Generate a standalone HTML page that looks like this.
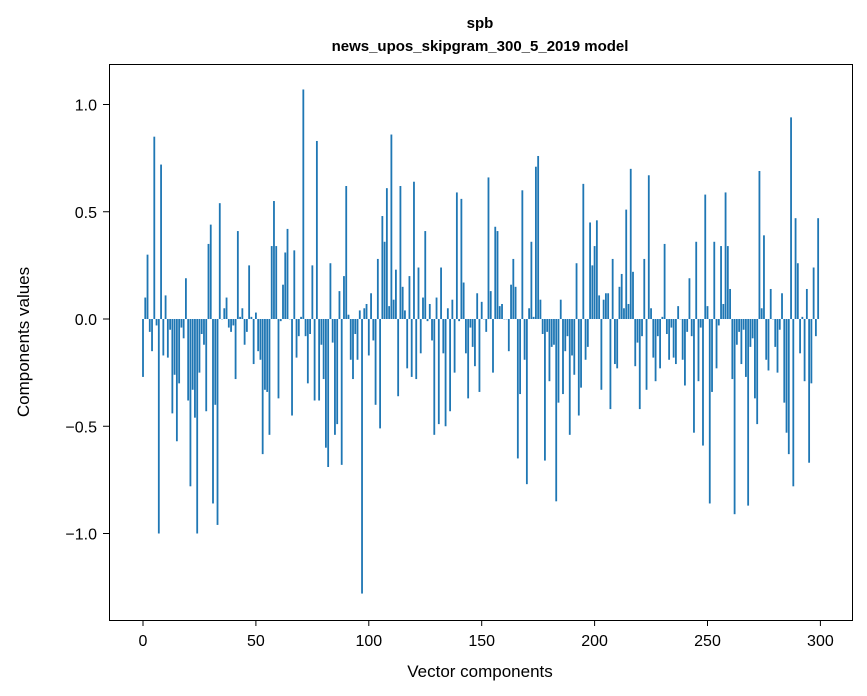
<!DOCTYPE html>
<html><head><meta charset="utf-8"><style>
body{margin:0;background:#fff;}
svg{display:block;font-family:"Liberation Sans","DejaVu Sans",sans-serif;}
</style></head><body>
<svg id="chart" width="867" height="696" viewBox="0 0 867 696" xmlns="http://www.w3.org/2000/svg">
<text x="480" y="28" text-anchor="middle" font-size="15" font-weight="bold">spb</text>
<text x="480" y="51" text-anchor="middle" font-size="15" font-weight="bold">news_upos_skipgram_300_5_2019 model</text>
<g id="bars"></g>
<g id="axes"></g>
<rect x="109.5" y="64.5" width="743" height="556" fill="none" stroke="#000" stroke-width="1"/>
<text x="480" y="677" text-anchor="middle" font-size="17">Vector components</text>
<text x="0" y="0" transform="translate(29,342) rotate(-90)" text-anchor="middle" font-size="17">Components values</text>
</svg>
<script>
const values = [
-0.27,0.10,0.30,-0.06,-0.15,0.85,-0.03,-1.0,0.72,-0.17,
0.11,-0.18,-0.05,-0.44,-0.26,-0.57,-0.30,-0.04,-0.09,0.19,
-0.38,-0.78,-0.33,-0.46,-1.0,-0.25,-0.07,-0.12,-0.43,0.35,
0.44,-0.86,-0.40,-0.96,0.54,0.0,0.05,0.10,-0.04,-0.06,
-0.03,-0.28,0.41,0.01,0.05,-0.12,-0.06,0.25,0.01,-0.21,
0.03,-0.15,-0.19,-0.63,-0.33,-0.34,-0.54,0.34,0.55,0.34,
-0.37,-0.01,0.16,0.31,0.42,0.0,-0.45,0.32,-0.18,-0.08,
0.01,1.07,-0.08,-0.30,-0.07,0.25,-0.38,0.83,-0.38,-0.12,
-0.28,-0.60,-0.69,0.26,-0.11,-0.54,-0.49,0.13,-0.68,0.20,
0.62,0.02,-0.19,-0.28,-0.07,-0.19,0.04,-1.28,0.05,0.07,
-0.17,0.12,-0.10,-0.40,0.28,-0.51,0.48,0.36,0.61,0.06,
0.86,0.09,0.23,-0.36,0.62,0.15,0.04,-0.23,0.20,-0.27,
0.64,-0.28,0.24,-0.16,0.10,0.41,-0.01,0.07,-0.10,-0.54,
0.10,-0.49,0.24,-0.16,-0.50,0.05,-0.43,0.09,-0.25,0.59,
-0.01,0.56,0.17,-0.16,-0.37,-0.04,-0.13,-0.22,0.12,-0.34,
0.08,0.0,-0.06,0.66,0.13,-0.25,0.43,0.41,0.06,0.07,
0.0,0.0,-0.15,0.16,0.28,0.15,-0.65,-0.35,0.60,-0.19,
-0.77,0.05,0.36,0.01,0.71,0.76,0.09,-0.07,-0.66,-0.06,
-0.29,-0.13,-0.12,-0.85,-0.39,0.09,-0.35,-0.15,-0.08,-0.54,
-0.17,-0.26,0.26,-0.45,-0.32,0.63,-0.19,-0.13,0.45,0.25,
0.34,0.46,0.11,-0.33,0.09,0.12,0.12,-0.42,0.28,-0.21,
-0.23,0.15,0.21,0.05,0.51,0.07,0.70,0.22,-0.22,-0.11,
-0.42,-0.08,0.28,-0.33,0.67,0.05,-0.18,-0.29,-0.08,-0.23,
0.01,0.35,-0.07,-0.19,-0.04,-0.18,-0.21,0.06,0.0,-0.19,
-0.31,-0.06,0.19,-0.08,-0.53,0.36,-0.29,-0.04,-0.59,0.58,
0.06,-0.86,-0.34,0.36,-0.23,-0.03,0.34,0.07,0.59,0.34,
0.14,-0.28,-0.91,-0.12,-0.06,-0.21,-0.05,-0.27,-0.87,-0.13,
-0.09,-0.37,-0.49,0.69,0.05,0.39,-0.19,-0.24,0.14,0.0,
-0.13,-0.25,-0.05,0.12,-0.39,-0.53,-0.63,0.94,-0.78,0.47,
0.26,-0.16,0.01,-0.29,0.14,-0.67,-0.30,0.24,-0.08,0.47
];
const xTicks = [0,50,100,150,200,250,300];
const yTicks = [1.0,0.5,0.0,-0.5,-1.0];
const yTickLabels = ["1.0","0.5","0.0","\u22120.5","\u22121.0"];

const NS = "http://www.w3.org/2000/svg";
function xScale(v){ return 143 + 2.258*v; }
function yScale(v){ return 319 - 214.5*v; }
const barsG = document.getElementById('bars');
values.forEach(function(v,i){
  const r = document.createElementNS(NS,'rect');
  const y0 = yScale(0), y1 = yScale(v);
  r.setAttribute('x', (xScale(i) - 0.9).toFixed(2));
  r.setAttribute('y', Math.min(y0,y1).toFixed(2));
  r.setAttribute('width', 1.81);
  r.setAttribute('height', Math.max(Math.abs(y1-y0),0.3).toFixed(2));
  r.setAttribute('fill', '#1f77b4');
  
  
  barsG.appendChild(r);
});
const axesG = document.getElementById('axes');
xTicks.forEach(function(t){
  const x = xScale(t);
  const l = document.createElementNS(NS,'line');
  l.setAttribute('x1',x); l.setAttribute('x2',x);
  l.setAttribute('y1',620); l.setAttribute('y2',626);
  l.setAttribute('stroke','#000');
  
  
  axesG.appendChild(l);
  const tx = document.createElementNS(NS,'text');
  tx.setAttribute('x',x); tx.setAttribute('y',646);
  tx.setAttribute('text-anchor','middle'); tx.setAttribute('font-size','16');
  tx.textContent = String(t);
  
  
  axesG.appendChild(tx);
});
yTicks.forEach(function(t,i){
  const y = yScale(t);
  const l = document.createElementNS(NS,'line');
  l.setAttribute('x1',103); l.setAttribute('x2',109);
  l.setAttribute('y1',y); l.setAttribute('y2',y);
  l.setAttribute('stroke','#000');
  
  
  axesG.appendChild(l);
  const tx = document.createElementNS(NS,'text');
  tx.setAttribute('x',97); tx.setAttribute('y',y+6);
  tx.setAttribute('text-anchor','end'); tx.setAttribute('font-size','16');
  tx.textContent = yTickLabels[i];
  
  
  axesG.appendChild(tx);
});
</script>
</body></html>
